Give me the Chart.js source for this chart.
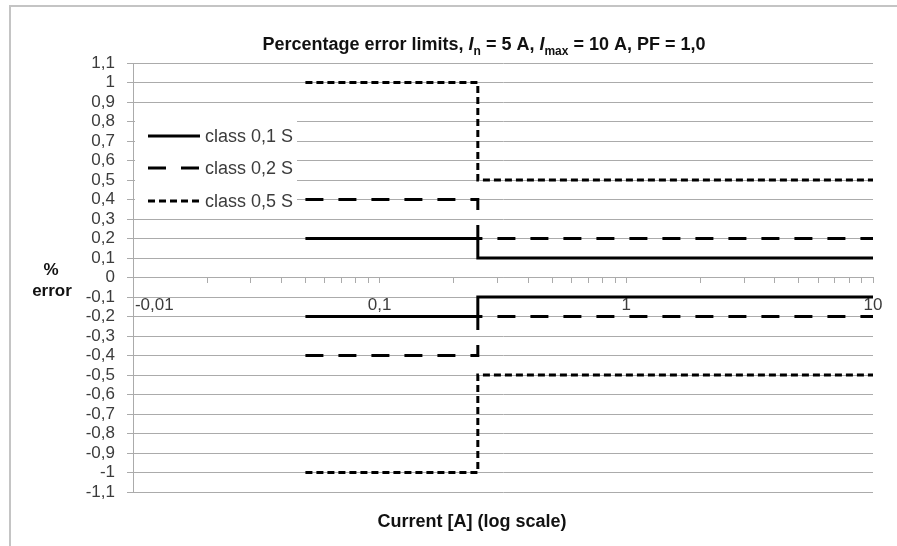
<!DOCTYPE html>
<html>
<head>
<meta charset="utf-8">
<script src="https://cdn.jsdelivr.net/npm/chart.js@4.4.0/dist/chart.umd.min.js"></script>
<style>
  html, body { margin: 0; padding: 0; background: #fff; }
</style>
</head>
<body>
<canvas id="myChart" width="897" height="546"></canvas>
<script>
// current values where the limits change (A): 0.01 In, 0.05 In, Imax
const currents = [0.05, 0.25, 0.25, 10];

// error limits (%) per accuracy class
const class01Upper = [0.2, 0.2, 0.1, 0.1];
const class01Lower = [-0.2, -0.2, -0.1, -0.1];
const class02Upper = [0.4, 0.4, 0.2, 0.2];
const class02Lower = [-0.4, -0.4, -0.2, -0.2];
const class05Upper = [1.0, 1.0, 0.5, 0.5];
const class05Lower = [-1.0, -1.0, -0.5, -0.5];

// axis ticks
const xTickValues = [0.01, 0.1, 1, 10];
const xTickLabels = ['-0,01', '0,1', '1', '10'];
const yTickValues = [1.1, 1, 0.9, 0.8, 0.7, 0.6, 0.5, 0.4, 0.3, 0.2, 0.1, 0,
  -0.1, -0.2, -0.3, -0.4, -0.5, -0.6, -0.7, -0.8, -0.9, -1, -1.1];

const FONT = '"Liberation Sans", Arial, sans-serif';
const GRID = '#ababab';
const TEXT = '#3c3c3c';

function pts(ys) {
  return currents.map((x, i) => ({ x: x, y: ys[i] }));
}

const styles = [
  { label: 'class 0,1 S', dash: [] },
  { label: 'class 0,2 S', dash: [18, 15] },
  { label: 'class 0,5 S', dash: [7, 4] }
];
const series = [
  [class01Upper, class01Lower],
  [class02Upper, class02Lower],
  [class05Upper, class05Lower]
];

const datasets = [];
series.forEach((pair, k) => {
  pair.forEach((ys, j) => {
    datasets.push({
      label: styles[k].label,
      data: pts(ys),
      showLine: true,
      borderColor: '#000',
      backgroundColor: '#000',
      borderWidth: 3,
      borderDash: styles[k].dash,
      borderCapStyle: 'butt',
      pointRadius: 0,
      inLegend: j === 0
    });
  });
});

// minor log ticks (marks only); the first label is kept inside the plot
const xAllTicks = [];
xTickValues.forEach((d, i) => {
  let lbl = xTickLabels[i];
  if (i === 0) lbl = '\u00a0'.repeat(9) + lbl;
  if (i === xTickValues.length - 1) {
    xAllTicks.push({ value: d, lbl: lbl });
    return;
  }
  for (let m = 1; m < 10; m++) {
    xAllTicks.push({ value: d * m, lbl: m === 1 ? lbl : '' });
  }
});

// frame, titles and the legend drawn inside the plot
const decorations = {
  id: 'decorations',
  beforeDraw(chart) {
    const ctx = chart.ctx;
    ctx.save();
    ctx.fillStyle = '#fff';
    ctx.fillRect(0, 0, chart.width, chart.height);
    ctx.strokeStyle = '#c4c4c4';
    ctx.lineWidth = 2;
    ctx.beginPath();
    ctx.moveTo(10, chart.height);
    ctx.lineTo(10, 6);
    ctx.lineTo(chart.width, 6);
    ctx.stroke();
    ctx.restore();
  },
  afterDatasetsDraw(chart) {
    const ctx = chart.ctx;
    ctx.save();

    // title with italic I and subscripts
    const parts = [
      { t: 'Percentage error limits, ', f: 'bold 18px ' + FONT, dy: 0 },
      { t: 'I', f: 'italic bold 18px ' + FONT, dy: 0 },
      { t: 'n', f: 'bold 12px ' + FONT, dy: 5 },
      { t: ' = 5 A, ', f: 'bold 18px ' + FONT, dy: 0 },
      { t: 'I', f: 'italic bold 18px ' + FONT, dy: 0 },
      { t: 'max', f: 'bold 12px ' + FONT, dy: 5 },
      { t: ' = 10 A, PF = 1,0', f: 'bold 18px ' + FONT, dy: 0 }
    ];
    let w = 0;
    parts.forEach(p => { ctx.font = p.f; w += ctx.measureText(p.t).width; });
    let x = 484 - w / 2;
    ctx.fillStyle = '#111';
    ctx.textBaseline = 'alphabetic';
    ctx.textAlign = 'left';
    parts.forEach(p => {
      ctx.font = p.f;
      ctx.fillText(p.t, x, 50 + p.dy);
      x += ctx.measureText(p.t).width;
    });

    // axis titles
    ctx.font = 'bold 18px ' + FONT;
    ctx.textAlign = 'center';
    ctx.fillText('Current [A] (log scale)', 472, 527);
    ctx.font = 'bold 17px ' + FONT;
    ctx.fillText('%', 51, 275);
    ctx.fillText('error', 52, 296);

    // legend
    ctx.fillStyle = '#fff';
    ctx.fillRect(135, 117, 162, 94);
    ctx.font = '18px ' + FONT;
    ctx.textBaseline = 'middle';
    ctx.textAlign = 'left';
    const rows = [136, 168, 201];
    let r = 0;
    chart.data.datasets.forEach(ds => {
      if (!ds.inLegend) return;
      const y = rows[r++];
      ctx.strokeStyle = ds.borderColor;
      ctx.lineWidth = ds.borderWidth;
      ctx.setLineDash(ds.borderDash);
      ctx.lineCap = 'butt';
      ctx.beginPath();
      ctx.moveTo(148, y);
      ctx.lineTo(200, y);
      ctx.stroke();
      ctx.setLineDash([]);
      ctx.fillStyle = TEXT;
      ctx.fillText(ds.label, 205, y + 1);
    });
    ctx.restore();
  }
};

const ctx = document.getElementById('myChart').getContext('2d');

const chart = new Chart(ctx, {
  type: 'scatter',
  data: { datasets: datasets },
  options: {
    responsive: false,
    animation: false,
    layout: { padding: { left: 10, right: 24, top: 63, bottom: 54 } },
    plugins: {
      legend: { display: false },
      title: { display: false },
      tooltip: { enabled: false }
    },
    scales: {
      x: {
        type: 'logarithmic',
        min: 0.01,
        max: 10,
        position: { y: 0 },
        afterBuildTicks(scale) {
          scale.ticks = xAllTicks.map(t => ({ value: t.value, lbl: t.lbl }));
        },
        ticks: {
          autoSkip: false,
          maxRotation: 0,
          align: 'center',
          padding: 13,
          color: TEXT,
          font: { family: FONT, size: 17 },
          callback(v, i, ticks) { return ticks[i].lbl; }
        },
        grid: { drawOnChartArea: false, tickLength: 5, tickColor: GRID },
        border: { color: GRID, width: 1 }
      },
      y: {
        type: 'linear',
        min: -1.1,
        max: 1.1,
        afterBuildTicks(scale) {
          scale.ticks = yTickValues.map(v => ({ value: v }));
        },
        afterFit(scale) { scale.width = 123; },
        ticks: {
          autoSkip: false,
          padding: 12,
          color: TEXT,
          font: { family: FONT, size: 17 },
          callback(v) { return String(Math.round(v * 10) / 10).replace('.', ','); }
        },
        grid: { color: GRID, lineWidth: 1, tickLength: 6, tickColor: GRID },
        border: { color: GRID, width: 1 }
      }
    }
  },
  plugins: [decorations]
});
</script>
</body>
</html>
